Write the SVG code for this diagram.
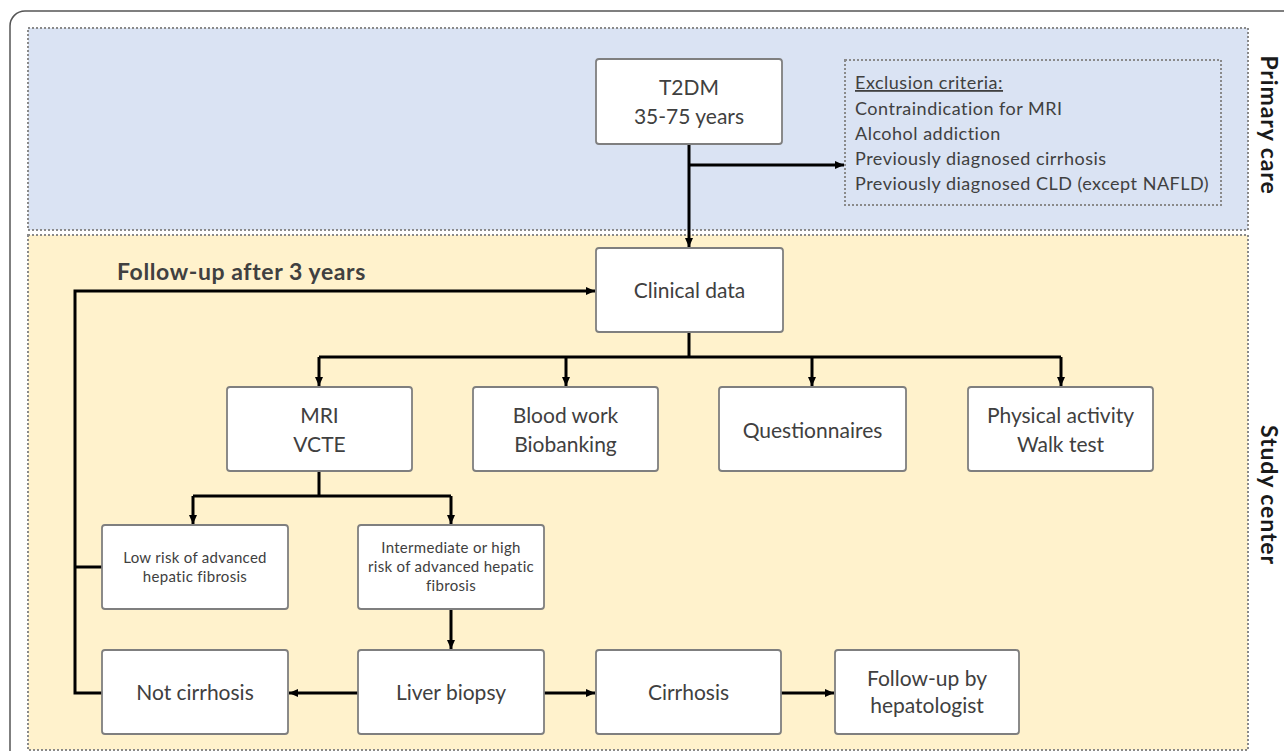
<svg xmlns="http://www.w3.org/2000/svg" width="1284" height="751" viewBox="0 0 1284 751">
<defs>
<marker id="ah" markerUnits="userSpaceOnUse" markerWidth="10" markerHeight="10" refX="9" refY="5" orient="auto">
<path d="M0,1 L9,5 L0,9 z" fill="#000"/>
</marker>
<style>
.region{stroke:#8a8a8a;stroke-width:2;stroke-dasharray:2 2}
.box{fill:#fff;stroke:#7f7f7f;stroke-width:1.8}
.t{font-family:Lato,"Liberation Sans",sans-serif;font-size:21px;fill:#404040;text-anchor:middle}
.s{font-family:Lato,"Liberation Sans",sans-serif;font-size:15px;letter-spacing:0.3px;fill:#404040;text-anchor:middle}
.ex{font-family:Lato,"Liberation Sans",sans-serif;font-size:18px;letter-spacing:0.5px;fill:#404040}
.side{font-family:Lato,"Liberation Sans",sans-serif;font-size:23px;letter-spacing:0.9px;font-weight:bold;fill:#1a1a1a;text-anchor:middle}
.c{fill:none;stroke:#000;stroke-width:3}
.ca{fill:none;stroke:#000;stroke-width:3;marker-end:url(#ah)}
</style>
</defs>
<rect x="10" y="11" width="1320" height="800" rx="15" fill="#fff" stroke="#555" stroke-width="1.5"/>
<g id="primary-care">
<rect class="region" x="28" y="28" width="1220" height="202" fill="#dae3f3"/>
<text class="side" transform="translate(1261,125) rotate(90)">Primary care</text>
</g>
<g id="study-center">
<rect class="region" x="28" y="235" width="1220" height="515" fill="#fff2cc"/>
<text class="side" transform="translate(1261,495) rotate(90)">Study center</text>
</g>
<g id="connectors">
<path class="ca" d="M689,144 V247"/>
<path class="ca" d="M689,165 H844"/>
<path class="ca" d="M103,693 H75 V291 H595"/>
<path class="c" d="M75,567 H103"/>
<path class="c" d="M689,332 V357 M319,357 H1061"/>
<path class="ca" d="M319,357 V386"/>
<path class="ca" d="M566,357 V386"/>
<path class="ca" d="M812,357 V386"/>
<path class="ca" d="M1061,357 V386"/>
<path class="c" d="M319,471 V496 M193,496 H451"/>
<path class="ca" d="M193,496 V524"/>
<path class="ca" d="M451,496 V524"/>
<path class="ca" d="M451,609 V649"/>
<path class="ca" d="M358,693 H289"/>
<path class="ca" d="M544,693 H595"/>
<path class="ca" d="M781,693 H834"/>
</g>
<g id="t2dm">
<rect class="box" x="596" y="59" width="186" height="85" rx="3"/>
<text class="t" x="689" y="95">T2DM</text>
<text class="t" x="689" y="124">35-75 years</text>
</g>
<g id="exclusion">
<rect class="region" x="845" y="60" width="376" height="145" fill="#dae3f3"/>
<text class="ex" x="855" y="89" text-decoration="underline">Exclusion criteria:</text>
<text class="ex" x="855" y="115">Contraindication for MRI</text>
<text class="ex" x="855" y="140">Alcohol addiction</text>
<text class="ex" x="855" y="165">Previously diagnosed cirrhosis</text>
<text class="ex" x="855" y="190">Previously diagnosed CLD (except NAFLD)</text>
</g>
<g id="follow-label">
<text x="117" y="280" style="font-family:Lato,'Liberation Sans',sans-serif;font-size:23px;letter-spacing:0.6px;font-weight:bold;fill:#404040">Follow-up after 3 years</text>
</g>
<g id="clinical">
<rect class="box" x="596" y="248" width="187" height="84" rx="3"/>
<text class="t" x="689.5" y="298">Clinical data</text>
</g>
<g id="mri">
<rect class="box" x="227" y="387" width="185" height="84" rx="3"/>
<text class="t" x="319.5" y="423">MRI</text>
<text class="t" x="319.5" y="452">VCTE</text>
</g>
<g id="blood">
<rect class="box" x="473" y="387" width="185" height="84" rx="3"/>
<text class="t" x="565.5" y="423">Blood work</text>
<text class="t" x="565.5" y="452">Biobanking</text>
</g>
<g id="questionnaires">
<rect class="box" x="719" y="387" width="187" height="84" rx="3"/>
<text class="t" x="812.5" y="438">Questionnaires</text>
</g>
<g id="physical">
<rect class="box" x="968" y="387" width="185" height="84" rx="3"/>
<text class="t" x="1060.5" y="423">Physical activity</text>
<text class="t" x="1060.5" y="452">Walk test</text>
</g>
<g id="low-risk">
<rect class="box" x="102" y="525" width="186" height="84" rx="3"/>
<text class="s" x="195" y="563">Low risk of advanced</text>
<text class="s" x="195" y="582">hepatic fibrosis</text>
</g>
<g id="high-risk">
<rect class="box" x="358" y="525" width="186" height="84" rx="3"/>
<text class="s" x="451" y="553">Intermediate or high</text>
<text class="s" x="451" y="572">risk of advanced hepatic</text>
<text class="s" x="451" y="591">fibrosis</text>
</g>
<g id="not-cirrhosis">
<rect class="box" x="102" y="650" width="186" height="84" rx="3"/>
<text class="t" x="195" y="700">Not cirrhosis</text>
</g>
<g id="biopsy">
<rect class="box" x="358" y="650" width="186" height="84" rx="3"/>
<text class="t" x="451" y="700">Liver biopsy</text>
</g>
<g id="cirrhosis">
<rect class="box" x="596" y="650" width="185" height="84" rx="3"/>
<text class="t" x="688.5" y="700">Cirrhosis</text>
</g>
<g id="hepatologist">
<rect class="box" x="835" y="650" width="184" height="84" rx="3"/>
<text class="t" x="927" y="686">Follow-up by</text>
<text class="t" x="927" y="713">hepatologist</text>
</g>
</svg>
